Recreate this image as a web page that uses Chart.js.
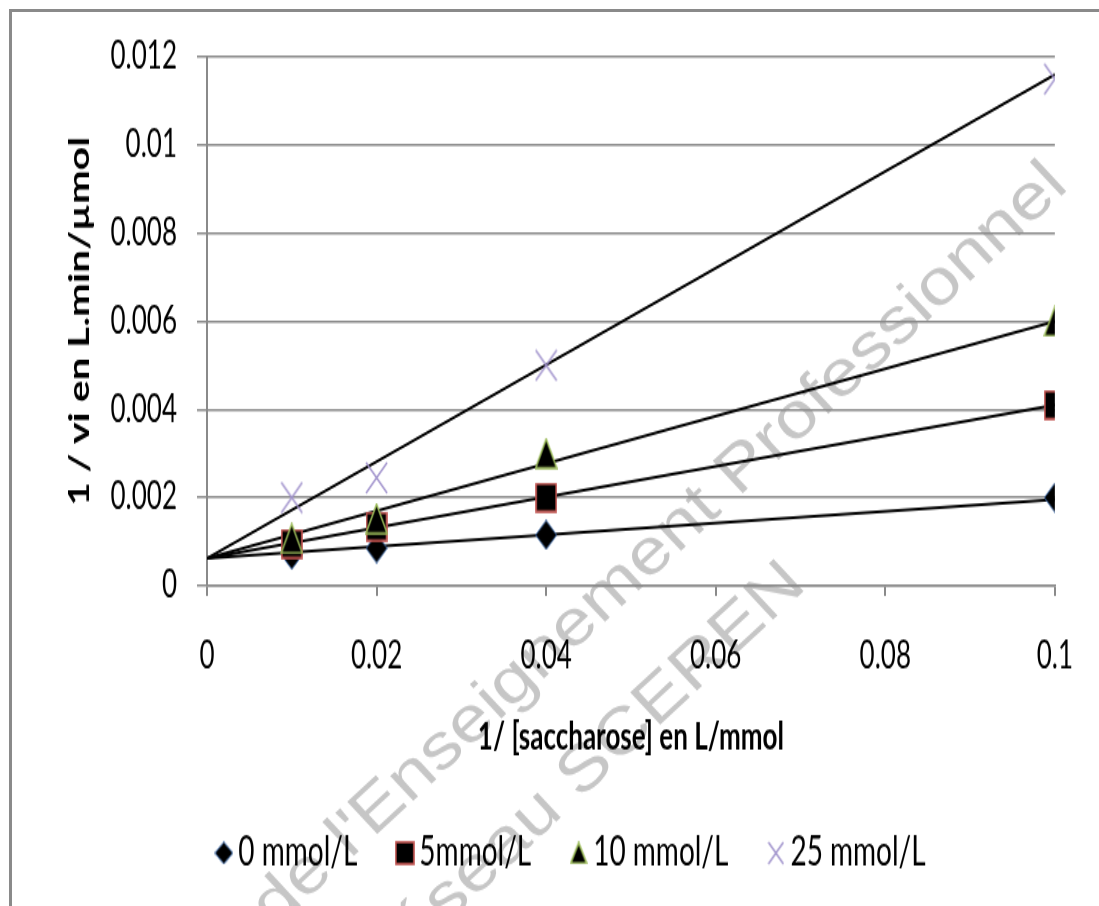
<!DOCTYPE html>
<html>
<head>
<meta charset="utf-8">
<script src="https://cdn.jsdelivr.net/npm/chart.js@4.4.0/dist/chart.umd.min.js"></script>
<style>
  html, body { margin: 0; padding: 0; background: #fff; }
  #frame {
    position: absolute; left: 9px; top: 9px;
    width: 1087px; height: 894px;
    border-left: 3px solid #8a8a8a; border-top: 3px solid #8a8a8a;
    overflow: hidden;
  }
  /* the original picture is stretched vertically, so draw flat and stretch */
  #lineweaver { display: block; transform: scaleY(1.44895); transform-origin: 0 0; }
</style>
</head>
<body>
<div id="frame"><canvas id="lineweaver" width="1087" height="617"></canvas></div>
<script>
const STRETCH = 1.44895;

// values
const seriesLabels = ['0 mmol/L', '5mmol/L', '10 mmol/L', '25 mmol/L'];
const invSubstrate = [0.01, 0.02, 0.04, 0.1];
const invRate0 = [0.0007, 0.00085, 0.00115, 0.002];
const invRate5 = [0.00095, 0.00134, 0.002, 0.0041];
const invRate10 = [0.00107, 0.00152, 0.003, 0.006];
const invRate25 = [0.002, 0.00245, 0.005, 0.0115];
// trend lines: value at x = 0 and at x = 0.1
const trendX = [0, 0.1];
const trendStart = [0.00062, 0.00062, 0.00062, 0.00062];
const trendEnd = [0.00195, 0.0041, 0.006, 0.0116];
const xTickValues = [0, 0.02, 0.04, 0.06, 0.08, 0.1];
const yTickValues = [0, 0.002, 0.004, 0.006, 0.008, 0.01, 0.012];

const face = "Lato, 'Open Sans', sans-serif";

// marker images, drawn flat (they get stretched with the canvas)
function makeMarker(shape, w, h) {
    const c = document.createElement('canvas');
    c.width = w; c.height = h;
    const g = c.getContext('2d');
    g.fillStyle = '#000';
    if (shape === 'diamond') {
        g.beginPath();
        g.moveTo(w / 2, 0.5); g.lineTo(w - 0.5, h / 2); g.lineTo(w / 2, h - 0.5); g.lineTo(0.5, h / 2);
        g.closePath(); g.fill();
        g.strokeStyle = '#3d6fb5'; g.lineWidth = 1; g.stroke();
    } else if (shape === 'square') {
        g.fillRect(1, 1, w - 2, h - 2);
        g.strokeStyle = '#c0504d'; g.lineWidth = 1.6; g.strokeRect(1, 1, w - 2, h - 2);
    } else if (shape === 'triangle') {
        g.beginPath();
        g.moveTo(w / 2, 1); g.lineTo(w - 1, h - 1); g.lineTo(1, h - 1);
        g.closePath(); g.fill();
        g.strokeStyle = '#9bbb59'; g.lineWidth = 1.6; g.stroke();
    } else {
        g.strokeStyle = '#9d8fca'; g.lineWidth = 1.5;
        g.beginPath();
        g.moveTo(1, 1); g.lineTo(w - 1, h - 1);
        g.moveTo(w - 1, 1); g.lineTo(1, h - 1);
        g.stroke();
    }
    return c;
}

const plotMarkers = [
    makeMarker('diamond', 22, 21),
    makeMarker('square', 22, 21),
    makeMarker('triangle', 23, 22),
    makeMarker('cross', 23, 23)
];
const legendMarkers = [
    makeMarker('diamond', 19, 16),
    makeMarker('square', 20, 17),
    makeMarker('triangle', 18, 16),
    makeMarker('cross', 17, 17)
];

const seriesValues = [invRate0, invRate5, invRate10, invRate25];

const markerSets = seriesValues.map((vals, k) => ({
    label: seriesLabels[k],
    data: invSubstrate.map((x, i) => ({ x: x, y: vals[i] })),
    pointStyle: plotMarkers[k],
    pointRadius: 12,
    showLine: false,
    order: 4 - k
}));

const trendSets = trendStart.map((y0, k) => ({
    label: 'trend ' + seriesLabels[k],
    data: [{ x: trendX[0], y: y0 }, { x: trendX[1], y: trendEnd[k] }],
    showLine: true,
    borderColor: '#000',
    borderWidth: 2,
    pointRadius: 0,
    order: 5
}));

// pale diagonal watermark behind the chart; it is not stretched in the original
const watermark = {
    id: 'watermark',
    beforeDraw(chart) {
        const ctx = chart.ctx;
        const lines = [
            { text: "e de l'Enseignement Professionnel", x: 1058, y: 176 },
            { text: 'Réseau SCEREN', x: 796, y: 575 }
        ];
        ctx.save();
        ctx.scale(1, 1 / STRETCH);
        ctx.fillStyle = '#c6c6c6';
        ctx.font = "64px 'Liberation Sans', Arial, sans-serif";
        ctx.textAlign = 'right';
        ctx.textBaseline = 'alphabetic';
        lines.forEach(l => {
            ctx.save();
            ctx.translate(l.x, l.y);
            ctx.rotate(-43 * Math.PI / 180);
            ctx.scale(1.17, 1);
            ctx.fillText(l.text, 0, 0);
            ctx.restore();
        });
        ctx.restore();
    }
};

const fmt = v => String(Number(v.toFixed(4)));

new Chart(document.getElementById('lineweaver'), {
    type: 'scatter',
    data: { datasets: markerSets.concat(trendSets) },
    plugins: [watermark],
    options: {
        responsive: false,
        animation: false,
        layout: { padding: { top: 31, right: 39, bottom: 12.6, left: 77 } },
        scales: {
            x: {
                type: 'linear',
                min: xTickValues[0],
                max: xTickValues[xTickValues.length - 1],
                afterBuildTicks: s => { s.ticks = xTickValues.map(v => ({ value: v })); },
                afterFit: s => { s.height = 123.5; },
                ticks: {
                    callback: fmt,
                    color: '#000',
                    font: { family: face, size: 26 },
                    padding: 26,
                    maxRotation: 0
                },
                grid: { drawOnChartArea: false, color: '#8a8a8a', lineWidth: 2, tickLength: 7 },
                border: { color: '#8a8a8a', width: 1.5 },
                title: {
                    display: true,
                    text: '1/ [saccharose] en L/mmol',
                    color: '#000',
                    font: { family: face, size: 26, weight: 'bold' },
                    padding: { top: 0, bottom: 3 }
                }
            },
            y: {
                min: yTickValues[0],
                max: yTickValues[yTickValues.length - 1],
                afterBuildTicks: s => { s.ticks = yTickValues.map(v => ({ value: v })); },
                afterFit: s => {
                    s.width = 118;
                    s.paddingTop = 0;
                    s.paddingBottom = 0;
                },
                ticks: {
                    callback: fmt,
                    color: '#000',
                    font: { family: face, size: 26 },
                    padding: 20
                },
                grid: { color: '#8a8a8a', lineWidth: 1.5, tickLength: 10 },
                border: { color: '#8a8a8a', width: 2 },
                title: {
                    display: true,
                    text: '1 / vi en L.min/µmol',
                    color: '#000',
                    font: { family: face, size: 28, weight: 'bold' },
                    padding: { top: -25.8, bottom: 0 }
                }
            }
        },
        plugins: {
            tooltip: { enabled: false },
            legend: {
                position: 'bottom',
                labels: {
                    usePointStyle: true,
                    boxWidth: 1,
                    boxHeight: 1,
                    padding: 47,
                    color: '#000',
                    font: { family: face, size: 28 },
                    filter: item => item.datasetIndex < 4,
                    sort: (a, b) => a.datasetIndex - b.datasetIndex,
                    generateLabels: chart => {
                        const items = Chart.defaults.plugins.legend.labels.generateLabels(chart);
                        items.forEach(it => {
                            if (it.datasetIndex < 4) it.pointStyle = legendMarkers[it.datasetIndex];
                        });
                        return items;
                    }
                }
            }
        }
    }
});
</script>
</body>
</html>
